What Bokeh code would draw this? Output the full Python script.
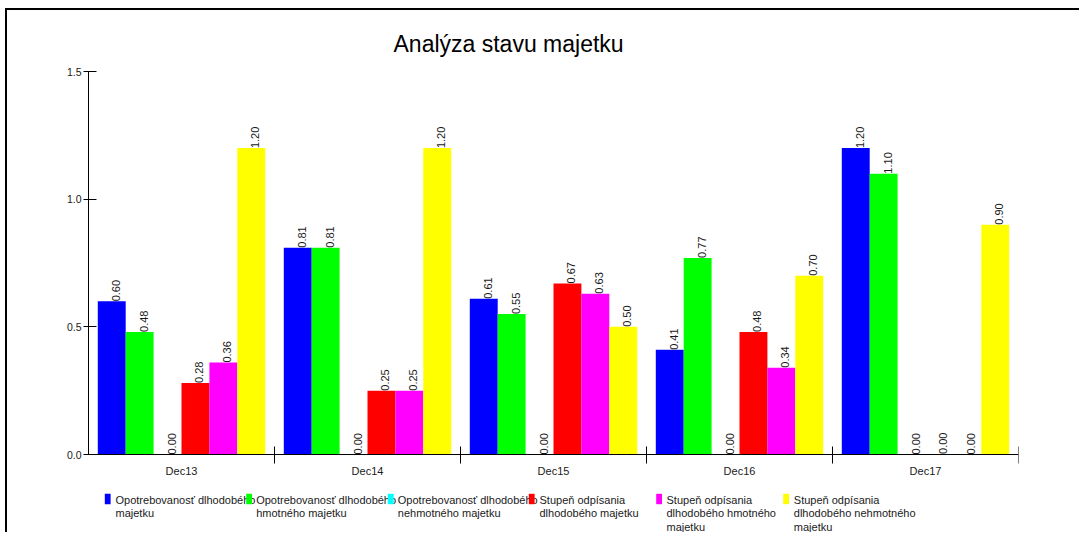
import numpy as np
from bokeh.plotting import figure
from bokeh.models import ColumnDataSource, FixedTicker, NumeralTickFormatter
from bokeh.core.properties import value
from bokeh.embed import file_html
from bokeh.resources import INLINE

# ---------------- data ----------------
categories = ["Dec13", "Dec14", "Dec15", "Dec16", "Dec17"]
series_labels = [
    ["Opotrebovanosť dlhodobého", "majetku"],
    ["Opotrebovanosť dlhodobého", "hmotného majetku"],
    ["Opotrebovanosť dlhodobého", "nehmotného majetku"],
    ["Stupeň odpísania", "dlhodobého majetku"],
    ["Stupeň odpísania", "dlhodobého hmotného", "majetku"],
    ["Stupeň odpísania", "dlhodobého nehmotného", "majetku"],
]
series_colors = ["#0000FF", "#00FF00", "#00FFFF", "#FF0000", "#FF00FF", "#FFFF00"]
opotreb_dlhodobeho = [0.60, 0.81, 0.61, 0.41, 1.20]
opotreb_hmotneho = [0.48, 0.81, 0.55, 0.77, 1.10]
opotreb_nehmotneho = [0.00, 0.00, 0.00, 0.00, 0.00]
stupen_dlhodobeho = [0.28, 0.25, 0.67, 0.48, 0.002]
stupen_hmotneho = [0.36, 0.25, 0.63, 0.34, 0.00]
stupen_nehmotneho = [1.20, 1.20, 0.50, 0.70, 0.90]
series_values = [opotreb_dlhodobeho, opotreb_hmotneho, opotreb_nehmotneho,
                 stupen_dlhodobeho, stupen_hmotneho, stupen_nehmotneho]
y_ticks = [0.0, 0.5, 1.0, 1.5]
title_text = "Analýza stavu majetku"

FONT = "Liberation Sans"
TXT = "#1a1a1a"
W, H = 1074, 524
# page geometry: canvas origin (7,10); axes frame x 88..1018, y=1.5 at 71, y=0 at 454
PX_PER_UNIT = (454 - 71) / 1.5
Y_MIN = -(10 + H - 454) / PX_PER_UNIT

p = figure(width=W, height=H, x_range=(0, 5), y_range=(Y_MIN, 1.5),
           output_backend="svg", toolbar_location=None,
           min_border_left=81, min_border_top=61, min_border_right=W - 81 - 930,
           min_border_bottom=0)
p.outline_line_color = None
p.grid.visible = False
p.background_fill_color = "white"
p.border_fill_color = "white"
p.styles = {"position": "absolute", "left": "5px", "top": "8px",
            "border-left": "2px solid #000", "border-top": "2px solid #000"}

p.title.text = title_text
p.title.align = "left"
p.title.offset = 305
p.title.standoff = 30
p.title.text_font = FONT
p.title.text_font_size = "23px"
p.title.text_font_style = "normal"
p.title.text_color = "black"

# bars
n = len(series_values)
bw = 0.15
for i, (vals, col) in enumerate(zip(series_values, series_colors)):
    off = -0.45 + bw * (i + 0.5)
    xs = [k + 0.5 + off for k in range(len(categories))]
    src = ColumnDataSource(dict(x=xs, top=vals, lbl=["%.2f" % v for v in vals]))
    p.vbar(x="x", top="top", width=bw, source=src, fill_color=col, line_color=None)
    p.text(x="x", y="top", text="lbl", source=src, angle=np.pi / 2,
           text_align="left", text_baseline="top", text_font=value(FONT),
           text_font_size="11px", text_color=TXT)

# y axis (limited to 0..1.5)
ya = p.yaxis[0]
ya.bounds = (0, 1.5)
ya.ticker = FixedTicker(ticks=y_ticks, minor_ticks=[])
ya.formatter = NumeralTickFormatter(format="0.0")
ya.major_tick_in = 8
ya.major_tick_out = 5
ya.major_label_standoff = 2
ya.axis_line_color = "black"
ya.major_tick_line_color = "black"
ya.major_label_text_font = FONT
ya.major_label_text_font_size = "10.5px"
ya.major_label_text_color = TXT

# x axis at y=0: labels at centers, ticks at boundaries (minor)
xa = p.xaxis[0]
xa.fixed_location = 0
xa.bounds = (0, 5)
centers = [k + 0.5 for k in range(len(categories))]
xa.ticker = FixedTicker(ticks=centers, minor_ticks=[k + 1 for k in range(len(categories))])
xa.major_label_overrides = {c: lab for c, lab in zip(centers, categories)}
xa.major_tick_in = 0
xa.major_tick_out = 0
xa.minor_tick_in = 8
xa.minor_tick_out = 9
xa.minor_tick_line_color = "black"
xa.axis_line_color = "black"
xa.major_label_standoff = 1
xa.major_label_text_font = FONT
xa.major_label_text_font_size = "11px"
xa.major_label_text_color = TXT

# ---------------- legend (below the axis, positions given in page pixels) ----------------
def dx(px):
    return (px - 88) / 186.0

def dy(py):
    return (454 - py) / PX_PER_UNIT

sq_left = [104.3, 245.7, 387.3, 528.3, 655.7, 782.7]
txt_left = [115, 255.7, 397.3, 539, 666, 793.3]
line_y = [499, 512.7, 526]
tx, ty, tt = [], [], []
for i in range(n):
    for j, line in enumerate(series_labels[i]):
        tx.append(dx(txt_left[i])); ty.append(dy(line_y[j])); tt.append(line)
p.text(x=tx, y=ty, text=tt, text_align="left", text_baseline="middle",
       text_font=value(FONT), text_font_size="11px", text_color=TXT)
p.quad(left=[dx(s) for s in sq_left], right=[dx(s + 5.8) for s in sq_left],
       top=[dy(493.3)] * n, bottom=[dy(503.7)] * n,
       fill_color=series_colors, line_color=None)

open("out.html", "w").write(file_html(p, INLINE))
